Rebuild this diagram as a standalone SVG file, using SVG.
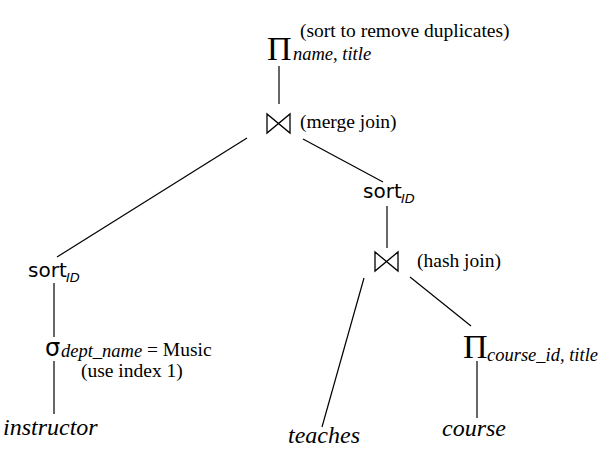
<svg xmlns="http://www.w3.org/2000/svg" width="602" height="456" viewBox="0 0 602 456">
<style>
.ln{stroke:#000;stroke-width:1.2;fill:none}
.bt{stroke:#000;stroke-width:1.3;fill:none;stroke-linejoin:miter}
.sf{font-family:"Liberation Serif","Times New Roman",serif;fill:#000}
.n{font-size:19.5px}
.sub{font-size:18.5px;font-style:italic}
.rel{font-size:24px;font-style:italic}
.pi{font-size:34px}
.ss{font-family:"DejaVu Sans",sans-serif;fill:#000}
.sort{font-size:20px}
.id{font-size:13px;font-style:italic}
</style>
<rect width="602" height="456" fill="#fff"/>
<g id="connectors">
<line class="ln" x1="279" y1="66" x2="279" y2="104"/>
<line class="ln" x1="247" y1="138" x2="57" y2="257"/>
<line class="ln" x1="303" y1="139" x2="383" y2="182"/>
<line class="ln" x1="387" y1="206" x2="387" y2="248"/>
<line class="ln" x1="364" y1="278" x2="322" y2="427"/>
<line class="ln" x1="410" y1="277" x2="471" y2="326"/>
<line class="ln" x1="477" y1="361" x2="477" y2="418"/>
<line class="ln" x1="54" y1="283" x2="54" y2="337"/>
<line class="ln" x1="54" y1="361" x2="54" y2="414"/>
</g>
<g id="project-top">
<text class="sf pi" x="267" y="60">Π</text>
<text class="sf sub" x="293" y="60">name, title</text>
<text class="sf n" x="300" y="37">(sort to remove duplicates)</text>
</g>
<g id="merge-join">
<path class="bt" d="M267,114 L267,133 L290,114 L290,133 Z"/>
<text class="sf n" x="300" y="128">(merge join)</text>
</g>
<g id="sort-right">
<text class="ss sort" x="363" y="198">sort</text>
<text class="ss id" x="401" y="203">ID</text>
</g>
<g id="hash-join">
<path class="bt" d="M375,252 L375,271 L398,252 L398,271 Z"/>
<text class="sf n" x="417" y="267">(hash join)</text>
</g>
<g id="project-course">
<text class="sf pi" x="463" y="358">Π</text>
<text class="sf sub" x="487" y="361">course_id, title</text>
</g>
<g id="course"><text class="sf rel" x="442" y="436">course</text></g>
<g id="teaches"><text class="sf rel" x="288" y="443">teaches</text></g>
<g id="sort-left">
<text class="ss sort" x="28" y="277">sort</text>
<text class="ss id" x="66" y="282">ID</text>
</g>
<g id="select">
<text class="ss" font-size="24" x="45" y="356">σ</text>
<text class="sf sub" x="61" y="357">dept_name</text>
<text class="sf n" x="147" y="356">= Music</text>
<text class="sf n" x="81" y="377">(use index 1)</text>
</g>
<g id="instructor"><text class="sf rel" x="3" y="435">instructor</text></g>
</svg>
